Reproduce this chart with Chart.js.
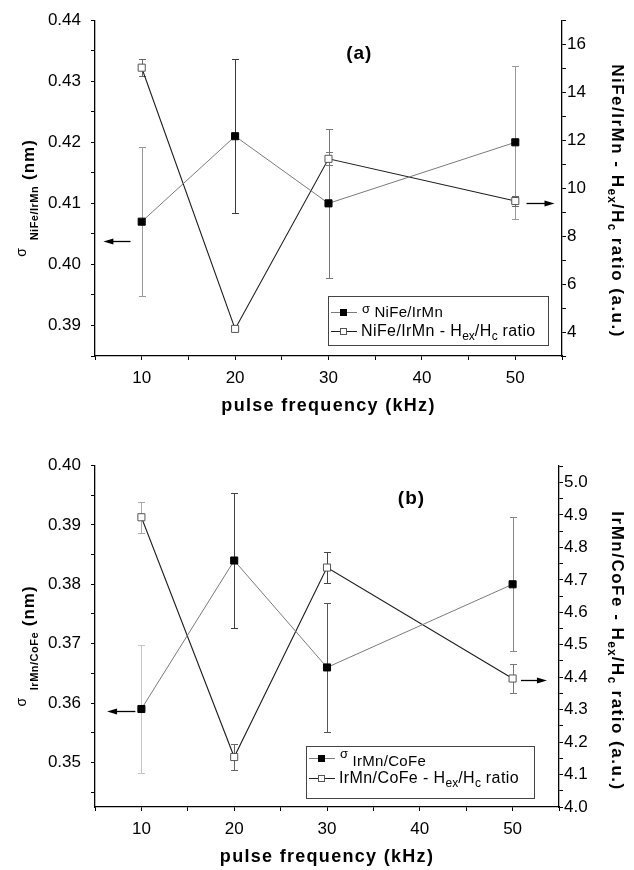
<!DOCTYPE html>
<html>
<head>
<meta charset="utf-8">
<title>Interface roughness and Hex/Hc ratio vs pulse frequency</title>
<script src="https://cdn.jsdelivr.net/npm/chart.js@4.4.1/dist/chart.umd.min.js"></script>
<style>
  html, body { margin: 0; padding: 0; background: #fff; }
  body { width: 634px; height: 870px; position: relative; overflow: hidden; }
  canvas { position: absolute; left: 0; display: block; }
  #panelA { top: 0; }
  #panelB { top: 430px; }
</style>
</head>
<body>
<canvas id="panelA" width="634" height="430"></canvas>
<canvas id="panelB" width="634" height="440"></canvas>
<script>
// pulse frequency (kHz)
const freq = [10, 20, 30, 50];

// (a) NiFe/IrMn: interface roughness sigma (nm) and Hex/Hc ratio
const sigmaA    = [0.407, 0.421, 0.410, 0.420];
const sigmaErrA = [0.0122, 0.0126, 0.0122, 0.0125];
const ratioA    = [15.02, 4.13, 11.22, 9.46];
const ratioErrA = [0.36, 0.10, 0.27, 0.20];

// (b) IrMn/CoFe
const sigmaB    = [0.359, 0.384, 0.366, 0.380];
const sigmaErrB = [0.0107, 0.0114, 0.0108, 0.0113];
const ratioB    = [4.893, 4.154, 4.738, 4.396];
const ratioErrB = [0.047, 0.041, 0.047, 0.045];

// labelled ticks
const xTickLabels = [10, 20, 30, 40, 50];
const sigmaTicksA = [0.39, 0.40, 0.41, 0.42, 0.43, 0.44];
const ratioTicksA = [4, 6, 8, 10, 12, 14, 16];
const sigmaTicksB = [0.35, 0.36, 0.37, 0.38, 0.39, 0.40];
const ratioTicksB = [4.0, 4.1, 4.2, 4.3, 4.4, 4.5, 4.6, 4.7, 4.8, 4.9, 5.0];

const FONT = '"Liberation Sans", Arial, Helvetica, sans-serif';
const SIGMA_LINE = '#7a7a7a';
const RATIO_LINE = '#1e1e1e';

Chart.defaults.font.family = FONT;
Chart.defaults.color = '#000';

// draw a run of text pieces: [text, font, dy, letterSpacing]
function drawRich(ctx, parts, x, y, align) {
  let total = 0;
  parts.forEach(p => {
    ctx.font = p[1];
    ctx.letterSpacing = (p[3] || 0) + 'px';
    total += ctx.measureText(p[0]).width;
  });
  let cx = align === 'center' ? x - total / 2 : x;
  parts.forEach(p => {
    ctx.font = p[1];
    ctx.letterSpacing = (p[3] || 0) + 'px';
    ctx.fillText(p[0], cx, y + (p[2] || 0));
    cx += ctx.measureText(p[0]).width;
  });
  ctx.letterSpacing = '0px';
}

function drawArrow(ctx, x1, x2, y) {
  const dir = Math.sign(x2 - x1);
  ctx.beginPath();
  ctx.moveTo(x1, y);
  ctx.lineTo(x2 - dir * 6, y);
  ctx.stroke();
  ctx.beginPath();
  ctx.moveTo(x2, y);
  ctx.lineTo(x2 - dir * 10, y - 3);
  ctx.lineTo(x2 - dir * 10, y + 3);
  ctx.closePath();
  ctx.fill();
}

function legendSample(ctx, x0, y, color, filled) {
  ctx.strokeStyle = color;
  ctx.lineWidth = 1;
  ctx.beginPath();
  ctx.moveTo(x0 + 3, y + 0.5);
  ctx.lineTo(x0 + 29, y + 0.5);
  ctx.stroke();
  ctx.fillStyle = filled ? '#000' : '#fff';
  ctx.fillRect(x0 + 12, y - 3, 7, 7);
  if (!filled) {
    ctx.strokeStyle = '#555';
    ctx.strokeRect(x0 + 12.5, y - 2.5, 6, 6);
  }
}

// tick positions (major + minor) between lo and hi
function tickSteps(lo, hi, step) {
  const out = [];
  const start = Math.ceil(lo / step - 1e-6);
  const end = Math.floor(hi / step + 1e-6);
  for (let k = start; k <= end; k++) out.push({ value: +(k * step).toFixed(6) });
  return out;
}

function labelFor(list, digits) {
  return v => {
    const hit = list.find(t => Math.abs(t - v) < 1e-6);
    return hit === undefined ? '' : hit.toFixed(digits);
  };
}

function buildPanel(p) {
  const canvas = document.getElementById(p.canvas);
  const W = canvas.width, H = canvas.height;

  const decor = {
    id: 'decor',
    beforeDatasetsDraw(chart) {
      const ctx = chart.ctx, xs = chart.scales.x;
      ctx.save();
      ctx.lineWidth = 1;
      [[p.sigma, p.sigmaErr, p.sigmaErrColor, 'y'],
       [p.ratio, p.ratioErr, p.ratioErrColor, 'y1']].forEach(([vals, errs, cols, axis]) => {
        const ys = chart.scales[axis];
        vals.forEach((v, i) => {
          const x = Math.round(xs.getPixelForValue(freq[i])) + 0.5;
          const yt = Math.round(ys.getPixelForValue(v + errs[i])) + 0.5;
          const yb = Math.round(ys.getPixelForValue(v - errs[i])) + 0.5;
          ctx.strokeStyle = cols[i];
          ctx.beginPath();
          ctx.moveTo(x, yt); ctx.lineTo(x, yb);
          ctx.moveTo(x - 3.5, yt); ctx.lineTo(x + 3.5, yt);
          ctx.moveTo(x - 3.5, yb); ctx.lineTo(x + 3.5, yb);
          ctx.stroke();
        });
      });
      ctx.restore();
    },
    afterDraw(chart) {
      const ctx = chart.ctx, area = chart.chartArea, xs = chart.scales.x;
      ctx.save();
      ctx.fillStyle = '#000';
      ctx.strokeStyle = '#000';
      ctx.lineWidth = 1.3;
      ctx.textBaseline = 'alphabetic';

      // arrows pointing at the axis each series belongs to
      p.arrows.forEach(a => {
        const y = Math.round(chart.scales[a.axis].getPixelForValue(a.at)) + 0.5;
        drawArrow(ctx, xs.getPixelForValue(a.from), xs.getPixelForValue(a.to), y);
      });

      // panel tag
      ctx.textAlign = 'left';
      drawRich(ctx, [[p.tag, `bold 19px ${FONT}`, 0, 1]],
        xs.getPixelForValue(p.tagAt[0]), chart.scales.y.getPixelForValue(p.tagAt[1]) + 7, 'center');

      // x title
      drawRich(ctx, [['pulse frequency (kHz)', `bold 18px ${FONT}`, 0, 1.3]],
        (area.left + area.right) / 2, area.bottom + 55, 'center');

      // left title, rotated upwards
      ctx.save();
      ctx.translate(p.leftTitle[0], p.leftTitle[1]);
      ctx.rotate(-Math.PI / 2);
      drawRich(ctx, [
        ['σ  ', `14px ${FONT}`, -8],
        [p.pair, `bold 11px ${FONT}`, 4, 0.5],
        [' (nm)', `bold 17px ${FONT}`, 0, 1]
      ], 0, 0, 'center');
      ctx.restore();

      // right title, rotated downwards
      ctx.save();
      ctx.translate(p.rightTitle[0], p.rightTitle[1]);
      ctx.rotate(Math.PI / 2);
      drawRich(ctx, [
        [p.pair + ' - H', `bold 17px ${FONT}`, 0, 1.5],
        ['ex', `bold 12px ${FONT}`, 4, 1],
        ['/H', `bold 17px ${FONT}`, 0, 1.5],
        ['c', `bold 12px ${FONT}`, 4, 1],
        [' ratio (a.u.)', `bold 17px ${FONT}`, 0, 1.5]
      ], 0, 0, 'center');
      ctx.restore();

      // legend
      const L = p.legend;
      ctx.lineWidth = 1;
      ctx.strokeStyle = '#444';
      ctx.strokeRect(L.x + 0.5, L.y + 0.5, L.w, L.h);
      const r1 = L.y + L.rows[0], r2 = L.y + L.rows[1];
      legendSample(ctx, L.x, r1, SIGMA_LINE, true);
      legendSample(ctx, L.x, r2, RATIO_LINE, false);
      ctx.fillStyle = '#000';
      drawRich(ctx, [['σ', `13px ${FONT}`, L.sigDy], [' ' + p.pair, `15px ${FONT}`, L.subDy, 0.3]],
        L.x + 34, r1, 'left');
      drawRich(ctx, [
        [p.pair + ' - H', `16px ${FONT}`, 5, 0.4],
        ['ex', `12px ${FONT}`, 9],
        ['/H', `16px ${FONT}`, 5, 0.4],
        ['c', `12px ${FONT}`, 9],
        [' ratio', `16px ${FONT}`, 5, 0.4]
      ], L.x + 33, r2, 'left');
      ctx.restore();
    }
  };

  const axisGrid = { drawOnChartArea: false, drawTicks: true, tickLength: 4, color: '#000', lineWidth: 1 };
  const axisBorder = { display: true, color: '#000', width: 1.3 };
  const tickFont = { size: 17 };

  new Chart(canvas, {
    type: 'scatter',
    data: {
      datasets: [
        {
          label: 'sigma',
          data: freq.map((f, i) => ({ x: f, y: p.sigma[i] })),
          yAxisID: 'y',
          showLine: true,
          borderColor: SIGMA_LINE,
          borderWidth: 1,
          pointStyle: 'rect',
          pointRadius: 5,
          pointBackgroundColor: '#000',
          pointBorderColor: '#000',
          pointBorderWidth: 1
        },
        {
          label: 'ratio',
          data: freq.map((f, i) => ({ x: f, y: p.ratio[i] })),
          yAxisID: 'y1',
          showLine: true,
          borderColor: RATIO_LINE,
          borderWidth: 1.1,
          pointStyle: 'rect',
          pointRadius: 5,
          pointBackgroundColor: '#fff',
          pointBorderColor: '#555',
          pointBorderWidth: 1
        }
      ]
    },
    options: {
      responsive: false,
      animation: false,
      devicePixelRatio: 1,
      layout: { padding: { top: p.box.top, left: 0, right: 0, bottom: 0 } },
      plugins: { legend: { display: false }, tooltip: { enabled: false } },
      scales: {
        x: {
          type: 'linear', min: 5, max: 55, bounds: 'data',
          ticks: { autoSkip: false, maxRotation: 0, padding: 8, font: tickFont,
                   callback: labelFor(xTickLabels, 0) },
          afterBuildTicks: s => { s.ticks = tickSteps(5, 55, 5); },
          grid: axisGrid, border: axisBorder,
          afterFit: s => { s.height = H - p.box.bottom; }
        },
        y: {
          position: 'left', min: p.sigmaRange[0], max: p.sigmaRange[1], bounds: 'data',
          ticks: { autoSkip: false, padding: 10, font: tickFont,
                   callback: labelFor(p.sigmaTicks, 2) },
          afterBuildTicks: s => { s.ticks = tickSteps(p.sigmaRange[0], p.sigmaRange[1], 0.005); },
          grid: axisGrid, border: axisBorder,
          afterFit: s => { s.width = p.box.left; }
        },
        y1: {
          position: 'right', min: p.ratioRange[0], max: p.ratioRange[1], bounds: 'data',
          ticks: { autoSkip: false, padding: 1, font: tickFont,
                   callback: labelFor(p.ratioTicks, p.ratioDigits) },
          afterBuildTicks: s => { s.ticks = tickSteps(p.ratioRange[0], p.ratioRange[1], p.ratioStep); },
          grid: axisGrid, border: axisBorder,
          afterFit: s => { s.width = W - p.box.right; }
        }
      }
    },
    plugins: [decor]
  });
}

buildPanel({
  canvas: 'panelA',
  pair: 'NiFe/IrMn',
  tag: '(a)', tagAt: [33.3, 0.4348],
  sigma: sigmaA, sigmaErr: sigmaErrA, sigmaErrColor: ['#999', '#3a3a3a', '#777', '#999'],
  ratio: ratioA, ratioErr: ratioErrA, ratioErrColor: ['#666', '#666', '#777', '#666'],
  sigmaRange: [0.385, 0.44], sigmaTicks: sigmaTicksA,
  ratioRange: [3, 17], ratioStep: 1, ratioTicks: ratioTicksA, ratioDigits: 0,
  arrows: [
    { axis: 'y', from: 8.8, to: 5.9, at: 0.4039 },
    { axis: 'y1', from: 51.2, to: 54.2, at: 9.37 }
  ],
  box: { left: 95, right: 562, top: 12, bottom: 356 },
  legend: { x: 328, y: 296, w: 220, h: 49, rows: [16, 35], sigDy: 1, subDy: 5 },
  leftTitle: [34, 198],
  rightTitle: [612, 201]
});

buildPanel({
  canvas: 'panelB',
  pair: 'IrMn/CoFe',
  tag: '(b)', tagAt: [39.1, 0.3947],
  sigma: sigmaB, sigmaErr: sigmaErrB, sigmaErrColor: ['#c4c4c4', '#404040', '#555', '#888'],
  ratio: ratioB, ratioErr: ratioErrB, ratioErrColor: ['#aaa', '#666', '#444', '#777'],
  sigmaRange: [0.3425, 0.40], sigmaTicks: sigmaTicksB,
  ratioRange: [4.0, 5.0525], ratioStep: 0.05, ratioTicks: ratioTicksB, ratioDigits: 1,
  arrows: [
    { axis: 'y', from: 9.35, to: 6.3, at: 0.3587 },
    { axis: 'y1', from: 50.9, to: 53.7, at: 4.39 }
  ],
  box: { left: 95, right: 559, top: 35.5, bottom: 377 },
  legend: { x: 306, y: 316, w: 228, h: 52, rows: [12, 32], sigDy: 0, subDy: 8 },
  leftTitle: [34, 216],
  rightTitle: [612, 221]
});
</script>
</body>
</html>
